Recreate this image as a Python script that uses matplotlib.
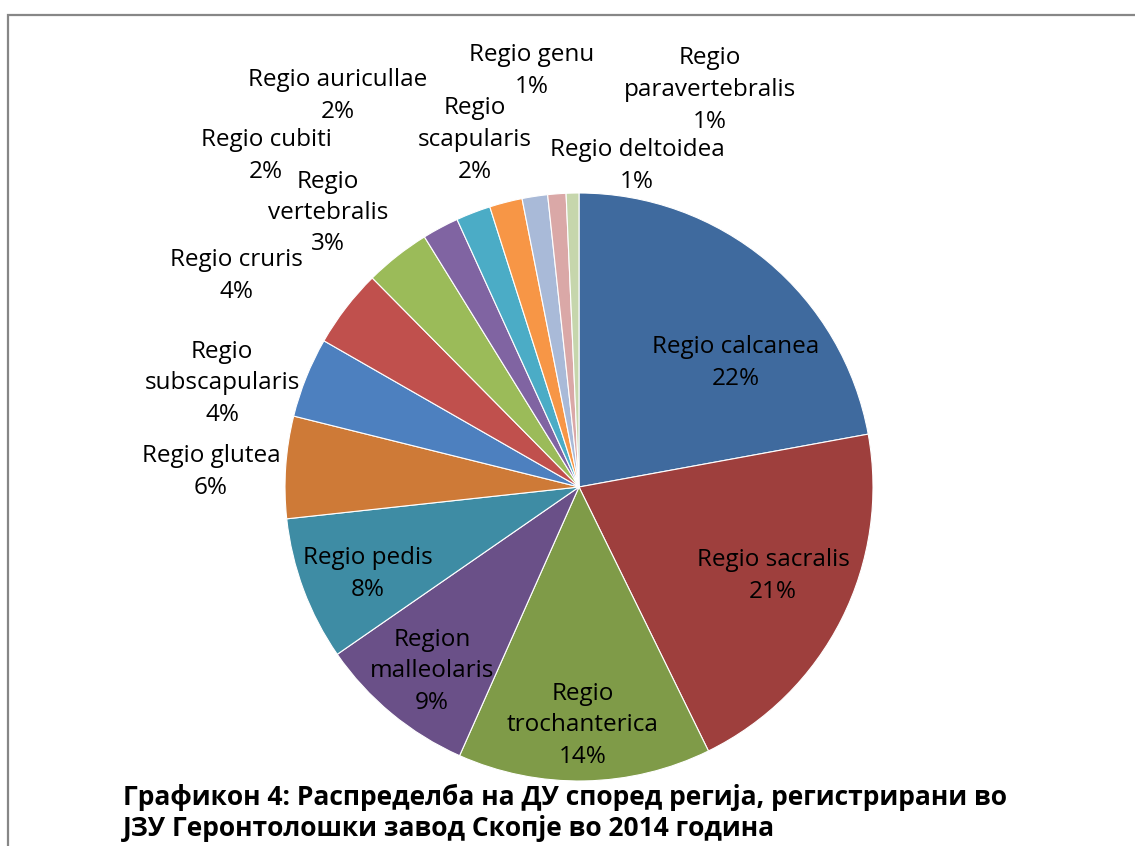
import matplotlib
matplotlib.use("Agg")
import matplotlib.pyplot as plt
from matplotlib.patches import Rectangle

W, H = 1135, 846

regions = ["Regio calcanea", "Regio sacralis", "Regio\ntrochanterica", "Region\nmalleolaris",
           "Regio pedis", "Regio glutea", "Regio\nsubscapularis", "Regio cruris",
           "Regio\nvertebralis", "Regio cubiti", "Regio auricullae", "Regio\nscapularis",
           "Regio genu", "Regio deltoidea", "Regio\nparavertebralis"]
values = [22.1, 20.6, 13.9, 8.7, 7.9, 5.6, 4.4, 4.3, 3.6, 2.0, 1.9, 1.8, 1.4, 1.0, 0.7]
pct_labels = ["22%", "21%", "14%", "9%", "8%", "6%", "4%", "4%", "3%", "2%", "2%", "2%", "1%", "1%", "1%"]
colors = ["#3F6A9E", "#9E3F3D", "#7F9B48", "#6A5088", "#3E8CA4", "#CE7A37", "#4D80BF",
          "#C0504D", "#9BBB59", "#8064A2", "#4BACC6", "#F79646", "#A9BAD8", "#DAA8A7", "#C6D6AC"]
title = "Графикон 4: Распределба на ДУ според регија, регистрирани во\nЈЗУ Геронтолошки завод Скопје во 2014 година"

# label centre positions in pixels (layout only)
label_px = [(736, 360), (773, 573), (583, 722), (432, 668), (368, 571), (211, 469),
            (222, 380), (236, 273), (328, 210), (266, 153), (338, 93), (475, 137),
            (532, 68), (637, 163), (710, 87)]
line_step = 31.5  # px between label lines

cx, cy, R = 579, 487, 294

fig = plt.figure(figsize=(W / 100, H / 100), dpi=100)
fig.patch.set_facecolor("white")

# border frame
fig.patches.append(Rectangle((8 / W, -0.1), 1.2, (H - 15) / H + 0.1, transform=fig.transFigure,
                             fill=False, edgecolor="#878787", linewidth=1.6))

ax = fig.add_axes([(cx - R) / W, (H - cy - R) / H, 2 * R / W, 2 * R / H])
ax.pie(values, colors=colors, startangle=90, counterclock=False, radius=1,
       wedgeprops=dict(edgecolor="white", linewidth=0.8))
ax.set_xlim(-1, 1)
ax.set_ylim(-1, 1)
ax.set_aspect("equal")
ax.axis("off")

for name, pct, (px, py) in zip(regions, pct_labels, label_px):
    lines = name.split("\n") + [pct]
    n = len(lines)
    for i, ln in enumerate(lines):
        ly = py + (i - (n - 1) / 2) * line_step
        fig.text(px / W, 1 - ly / H, ln, ha="center", va="center_baseline",
                 fontsize=17.5, family=["Open Sans", "DejaVu Sans"], color="black")

fig.text(123 / W, 1 - 813 / H, title, ha="left", va="center", fontsize=19,
         fontweight="bold", family=["Open Sans", "DejaVu Sans"], linespacing=1.22)

fig.savefig("out.png", dpi=100)
